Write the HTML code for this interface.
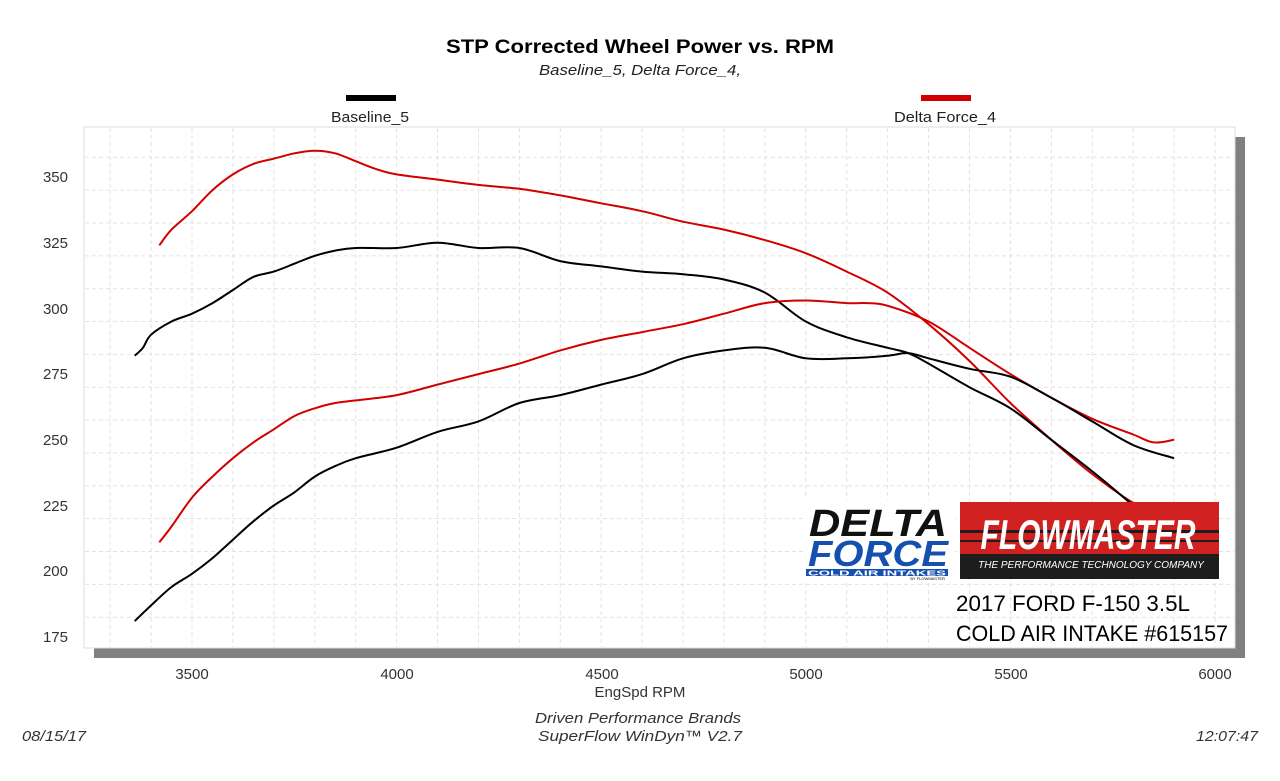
<!DOCTYPE html>
<html><head><meta charset="utf-8"><style>
body{margin:0;background:#fff;width:1280px;height:776px;overflow:hidden;font-family:"Liberation Sans",sans-serif}
</style></head><body>
<svg id="s" width="1280" height="776" xmlns="http://www.w3.org/2000/svg" font-family="Liberation Sans, sans-serif">
<text x="640" y="53" text-anchor="middle" font-size="19" font-weight="bold" textLength="388" lengthAdjust="spacingAndGlyphs">STP Corrected Wheel Power vs. RPM</text>
<text x="640" y="75" text-anchor="middle" font-size="15" font-style="italic" fill="#222" textLength="202" lengthAdjust="spacingAndGlyphs">Baseline_5, Delta Force_4,</text>
<rect x="346" y="95" width="50" height="6" fill="#000"/>
<text x="370" y="122" text-anchor="middle" font-size="15" fill="#222" textLength="78" lengthAdjust="spacingAndGlyphs">Baseline_5</text>
<rect x="921" y="95" width="50" height="6" fill="#d10000"/>
<text x="945" y="122" text-anchor="middle" font-size="15" fill="#222" textLength="102" lengthAdjust="spacingAndGlyphs">Delta Force_4</text>
<rect x="94" y="137" width="1151" height="521" fill="#808080"/>
<rect x="84" y="127" width="1151" height="521" fill="#fff" stroke="#ddd"/>
<g id="grid" stroke="#e2e2e2" stroke-dasharray="4,3" stroke-width="1"></g>
<g font-size="15" fill="#333" text-anchor="end">
<text x="68" y="182">350</text><text x="68" y="248">325</text><text x="68" y="314">300</text><text x="68" y="379">275</text><text x="68" y="445">250</text><text x="68" y="511">225</text><text x="68" y="576">200</text><text x="68" y="642">175</text>
</g>
<g font-size="15" fill="#333" text-anchor="middle">
<text x="192" y="679">3500</text><text x="397" y="679">4000</text><text x="602" y="679">4500</text><text x="806" y="679">5000</text><text x="1011" y="679">5500</text><text x="1215" y="679">6000</text>
<text x="640" y="697">EngSpd  RPM</text>
</g>
<g id="curves" fill="none" stroke-width="2" stroke-linejoin="round"></g>
<g font-size="15" font-style="italic" fill="#333">
<text x="638" y="723" text-anchor="middle" textLength="206" lengthAdjust="spacingAndGlyphs">Driven Performance Brands</text>
<text x="640" y="741" text-anchor="middle" textLength="204" lengthAdjust="spacingAndGlyphs">SuperFlow WinDyn™  V2.7</text>
<text x="22" y="741" textLength="64" lengthAdjust="spacingAndGlyphs">08/15/17</text>
<text x="1258" y="741" text-anchor="end" textLength="62" lengthAdjust="spacingAndGlyphs">12:07:47</text>
</g>
<rect x="805" y="500" width="150" height="80" fill="#fff"/>
<text x="878" y="536" text-anchor="middle" font-size="38" font-weight="bold" font-style="italic" fill="#111" textLength="138" lengthAdjust="spacingAndGlyphs">DELTA</text>
<text x="878" y="566" text-anchor="middle" font-size="36" font-weight="bold" font-style="italic" fill="#1550b0" textLength="140" lengthAdjust="spacingAndGlyphs">FORCE</text>
<rect x="806" y="569" width="142" height="7" fill="#1550b0"/>
<text x="877" y="575.5" text-anchor="middle" font-size="7" font-weight="bold" fill="#fff" textLength="138" lengthAdjust="spacingAndGlyphs">COLD AIR INTAKES</text>
<text x="945" y="580" text-anchor="end" font-size="4" fill="#000">BY FLOWMASTER</text>
<rect x="960" y="502" width="259" height="77" fill="#1d1d1d"/>
<rect x="960" y="502" width="259" height="52" fill="#d02020"/>
<rect x="960" y="530" width="259" height="3" fill="#1d1d1d"/>
<rect x="960" y="540" width="259" height="2" fill="#1d1d1d"/>
<text x="1088" y="549" text-anchor="middle" font-size="42" font-weight="bold" font-style="italic" fill="#fff" textLength="215" lengthAdjust="spacingAndGlyphs">FLOWMASTER</text>
<text x="1091" y="568" text-anchor="middle" font-size="10" font-style="italic" fill="#fff">THE PERFORMANCE TECHNOLOGY COMPANY</text>
<text x="956" y="611" font-size="22" fill="#000" textLength="234" lengthAdjust="spacingAndGlyphs">2017 FORD F-150 3.5L</text>
<text x="956" y="641" font-size="22" fill="#000" textLength="272" lengthAdjust="spacingAndGlyphs">COLD AIR INTAKE #615157</text>
</svg>
<script>
function X(r){return 192+(r-3500)*0.4092}
function Y(v){return 177+(350-v)*2.628}
var g=document.getElementById("grid"),h="";
for(var r=3300;r<=6000;r+=100){var x=X(r);if(x>84&&x<1235)h+='<line x1="'+x+'" y1="128" x2="'+x+'" y2="647"/>';}
for(var v=170;v<=365;v+=12.5){var y=Y(v);if(y>128&&y<647)h+='<line x1="85" y1="'+y+'" x2="1234" y2="'+y+'"/>';}
g.innerHTML=h;
var D=[
["#d10000",[[3420,324],[3450,330],[3500,337],[3550,345],[3600,351],[3650,355],[3700,357],[3750,359],[3800,360],[3850,359],[3900,356],[3950,353],[4000,351],[4100,349],[4200,347],[4300,345.5],[4400,343],[4500,340],[4600,337],[4700,333],[4800,330],[4900,326],[5000,321],[5100,314],[5200,306],[5300,294],[5400,280],[5500,264],[5600,250],[5700,237],[5800,226],[5900,218]]],
["#000",[[3360,282],[3380,285],[3400,290],[3450,295],[3500,298],[3550,302],[3600,307],[3650,312],[3700,314],[3750,317],[3800,320],[3850,322],[3900,323],[4000,323],[4100,325],[4200,323],[4300,323],[4400,318],[4500,316],[4600,314],[4700,313],[4800,311],[4900,306],[5000,295],[5100,289],[5200,285],[5250,283],[5300,279],[5400,270],[5500,262],[5600,250],[5700,238],[5800,225],[5850,218]]],
["#d10000",[[3420,211],[3450,217],[3500,228],[3550,236],[3600,243],[3650,249],[3700,254],[3750,259],[3800,262],[3850,264],[3900,265],[4000,267],[4100,271],[4200,275],[4300,279],[4400,284],[4500,288],[4600,291],[4700,294],[4800,298],[4900,302],[5000,303],[5100,302],[5150,302],[5200,301],[5300,295],[5400,285],[5500,275],[5600,266],[5700,258],[5800,252],[5850,249],[5900,250]]],
["#000",[[3360,181],[3400,187],[3450,194],[3500,199],[3550,205],[3600,212],[3650,219],[3700,225],[3750,230],[3800,236],[3850,240],[3900,243],[4000,247],[4100,253],[4200,257],[4300,264],[4400,267],[4500,271],[4600,275],[4700,281],[4800,284],[4900,285],[5000,281],[5100,281],[5200,282],[5250,283],[5300,281],[5400,277],[5500,274],[5600,266],[5700,257],[5800,248],[5900,243]]]
];
var c=document.getElementById("curves"),s="";
D.forEach(function(d){var P=d[1].map(function(q){return [X(q[0]),Y(q[1])]});
var p="M"+P[0][0].toFixed(1)+","+P[0][1].toFixed(1);
for(var i=0;i<P.length-1;i++){var p0=P[Math.max(i-1,0)],p1=P[i],p2=P[i+1],p3=P[Math.min(i+2,P.length-1)];
var c1x=p1[0]+(p2[0]-p0[0])/6,c1y=p1[1]+(p2[1]-p0[1])/6,c2x=p2[0]-(p3[0]-p1[0])/6,c2y=p2[1]-(p3[1]-p1[1])/6;
p+="C"+c1x.toFixed(1)+","+c1y.toFixed(1)+" "+c2x.toFixed(1)+","+c2y.toFixed(1)+" "+p2[0].toFixed(1)+","+p2[1].toFixed(1);}
s+='<path d="'+p+'" stroke="'+d[0]+'"/>';});
c.innerHTML=s;
</script>
</body></html>
